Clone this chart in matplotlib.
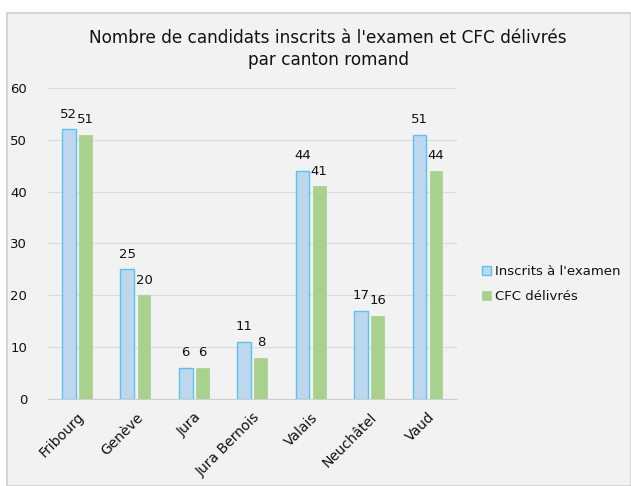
import matplotlib
matplotlib.use("Agg")
import matplotlib.pyplot as plt
import numpy as np
from matplotlib.patches import Rectangle

cantons = ["Fribourg", "Genève", "Jura", "Jura Bernois", "Valais", "Neuchâtel", "Vaud"]
inscrits = [52, 25, 6, 11, 44, 17, 51]
cfc = [51, 20, 6, 8, 41, 16, 44]
yticks = [0, 10, 20, 30, 40, 50, 60]

W, H = 631, 486
fig = plt.figure(figsize=(W/100, H/100), dpi=100)
fig.patch.set_facecolor("white")
fig.patches.append(Rectangle((7/W, 0), 1 - 7/W, 1 - 13/H, transform=fig.transFigure,
                             facecolor="#f2f2f2", edgecolor="#d0d0d0", linewidth=1.2, zorder=-10))

ax = fig.add_axes([48/W, 1 - 399/H, (457-48)/W, (399-88)/H])
ax.set_zorder(5)
ax.set_facecolor("none")
x = np.arange(len(cantons))
bw = 0.235
gap = 0.05
b1 = ax.bar(x - bw/2 - gap/2, inscrits, bw, color="#bdd7ee", edgecolor="#5bc3f0", linewidth=1.0,
            label="Inscrits à l'examen", zorder=3)
b2 = ax.bar(x + bw/2 + gap/2, cfc, bw * 0.93, color="#a9d18e", edgecolor="#a9d18e", linewidth=0.5,
            label="CFC délivrés", zorder=3)
for xi, v in zip(x, inscrits):
    ax.text(xi - bw/2 - gap/2, v + 1.7, str(v), ha="center", va="bottom", fontsize=9.5, color="#111111")
for xi, v in zip(x, cfc):
    ax.text(xi + bw/2 + gap/2, v + 1.7, str(v), ha="center", va="bottom", fontsize=9.5, color="#111111")

ax.set_ylim(0, 60)
ax.set_xlim(-0.5, len(cantons) - 0.5)
ax.set_yticks(yticks)
ax.set_yticklabels([str(t) for t in yticks], fontsize=9.5, color="#111111")
ax.set_xticks(x)
ax.set_xticklabels(cantons, rotation=45, ha="right", rotation_mode="anchor", fontsize=10, color="#111111")
ax.tick_params(axis="y", length=0, pad=15)
ax.tick_params(axis="x", length=0, pad=8)
ax.yaxis.grid(True, color="#dcdcdc", linewidth=0.9, zorder=0)
ax.set_axisbelow(True)
for s in ["top", "right", "left"]:
    ax.spines[s].set_visible(False)
ax.spines["bottom"].set_color("#cfcfcf")

fig.text(328/W, 1 - 49/H, "Nombre de candidats inscrits à l'examen et CFC délivrés\npar canton romand",
         ha="center", va="center", fontsize=12.2, color="#111111", linespacing=1.25)

leg = fig.legend(handles=[b1, b2], loc="center left", bbox_to_anchor=(470/W, 1 - 284/H),
                 frameon=False, fontsize=9.5, handlelength=0.7, handleheight=0.7,
                 handletextpad=0.3, labelspacing=0.9)
for t in leg.get_texts():
    t.set_color("#111111")

fig.savefig("out.png", dpi=100, facecolor=fig.get_facecolor())
